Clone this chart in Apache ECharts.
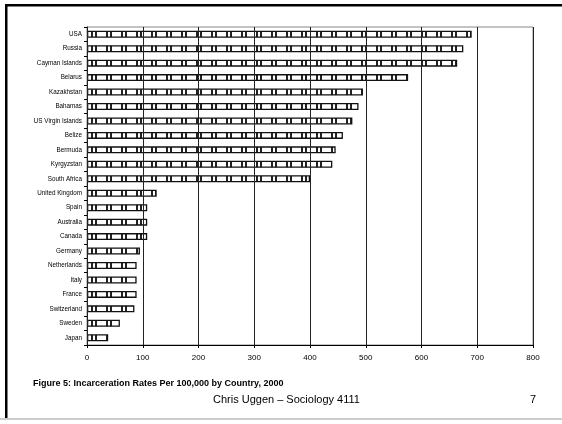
<!DOCTYPE html>
<html><head><meta charset="utf-8">
<script src="https://cdn.jsdelivr.net/npm/echarts@6/dist/echarts.min.js"></script>
<style>html,body{margin:0;padding:0;background:#fff}#c{width:562px;height:424px}</style>
</head><body><div id="c"></div>
<script>
var countries = ["USA","Russia","Cayman Islands","Belarus","Kazakhstan","Bahamas","US Virgin Islands","Belize","Bermuda","Kyrgyzstan","South Africa","United Kingdom","Spain","Australia","Canada","Germany","Netherlands","Italy","France","Switzerland","Sweden","Japan"];
var rates = [690,675,664,576,495,487,476,459,446,440,400,125,108,108,108,95,89,89,89,85,59,38];
var xTicks = [0,100,200,300,400,500,600,700,800];
var caption = "Figure 5: Incarceration Rates Per 100,000 by Country, 2000";
var footer = "Chris Uggen \u2013 Sociology 4111";
var pageNo = "7";

var pc = document.createElement('canvas');
pc.width = 15; pc.height = 4;
var g = pc.getContext('2d');
g.fillStyle = '#fff'; g.fillRect(0,0,15,4);
g.fillStyle = '#222'; g.fillRect(1,0,2,4); g.fillRect(5,0,2,4);

var chart = echarts.init(document.getElementById('c'), null, {renderer:'canvas'});
chart.setOption({
  animation:false,
  backgroundColor:'#fff',
  grid:{left:87,right:29,top:27,bottom:79,containLabel:false,show:true,borderColor:'#888',borderWidth:1},
  xAxis:{type:'value',min:0,max:800,interval:100,z:5,
    axisLine:{show:true,lineStyle:{color:'#000',width:1}},
    axisTick:{show:true,length:3,lineStyle:{color:'#000'}},
    axisLabel:{fontFamily:'Liberation Sans',fontSize:8,color:'#000',margin:9,
      formatter:function(v){return xTicks.indexOf(v)>=0?String(v):'';}},
    splitLine:{show:true,lineStyle:{color:'#222',width:1}}},
  yAxis:{type:'category',data:countries,inverse:true,
    axisLine:{show:true,lineStyle:{color:'#000'}},
    axisTick:{show:true,length:3,lineStyle:{color:'#000'}},
    axisLabel:{fontFamily:'Liberation Sans',fontSize:6.3,color:'#000',margin:5,interval:0}},
  series:[{type:'bar',data:rates,barWidth:7,
    itemStyle:{color:{image:pc,repeat:'repeat'},borderColor:'#111',borderWidth:1.3}}],
  graphic:[
    {type:'rect',shape:{x:5,y:4,width:2.5,height:415},style:{fill:'#000'}},
    {type:'rect',shape:{x:5,y:4,width:560,height:2.5},style:{fill:'#000'}},
    {type:'rect',shape:{x:0,y:418,width:562,height:2},style:{fill:'#ccc'}},
    {type:'text',left:33,top:379,style:{text:caption,font:'bold 9px "Liberation Sans"',fill:'#000'}},
    {type:'text',left:213,top:394,style:{text:footer,font:'11px "Liberation Sans"',fill:'#000'}},
    {type:'text',left:530,top:394,style:{text:pageNo,font:'11px "Liberation Sans"',fill:'#000'}}
  ]
});
</script></body></html>
